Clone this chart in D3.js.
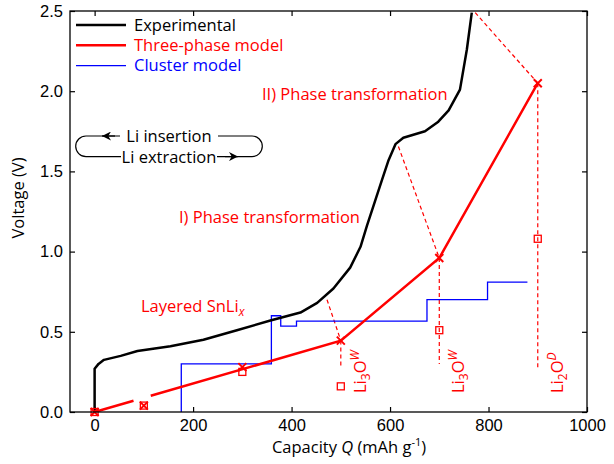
<!DOCTYPE html>
<html>
<head>
<meta charset="utf-8">
<script src="https://cdn.jsdelivr.net/npm/d3@7"></script>
<style>
  body { margin: 0; background: #fff; }
  svg { display: block; font-family: "Open Sans", "Liberation Sans", sans-serif; }
</style>
</head>
<body>
<div id="chart"></div>
<script>
// Experimental curve (capacity mAh/g, voltage V)
const expQ = [0, 0, 8, 19, 53, 87, 154, 221, 289, 357, 418, 452, 485, 519, 540, 553, 570, 584, 597, 611, 627, 671, 698, 719, 742, 756, 766];
const expV = [0, 0.27, 0.30, 0.325, 0.35, 0.38, 0.41, 0.45, 0.51, 0.57, 0.62, 0.68, 0.77, 0.90, 1.03, 1.16, 1.32, 1.45, 1.57, 1.67, 1.71, 1.75, 1.81, 1.88, 2.01, 2.26, 2.49];

// Three-phase model: line (null = break) and markers
const threeLineQ = [0, 79, null, 114, 500, 700, 900];
const threeLineV = [0, 0.07, null, 0.101, 0.445, 0.96, 2.05];
const crossQ = [0, 100, 300, 500, 700, 900];
const crossV = [0, 0.04, 0.28, 0.445, 0.96, 2.05];
const squareQ = [0, 100, 300, 500, 700, 900];
const squareV = [0, 0.04, 0.25, 0.16, 0.51, 1.08];

// Cluster model steps (step before)
const clusterQ = [176, 359, 378, 410, 675, 798, 879];
const clusterV = [0, 0.30, 0.60, 0.535, 0.567, 0.70, 0.81];

// Dashed guides: [Q1, V1, Q2, V2]
const guides = [
  [472, 0.70, 500, 0.445],
  [500, 0.445, 500, 0.28],
  [617, 1.655, 700, 0.96],
  [700, 0.96, 700, 0.30],
  [773, 2.49, 900, 2.05],
  [900, 2.05, 900, 0.26]
];

const xTicks = [0, 200, 400, 600, 800, 1000];
const yTicks = [0, 0.5, 1.0, 1.5, 2.0, 2.5];

const W = 614, H = 464;
const margin = { top: 11, right: 27, bottom: 52, left: 70 };
const w = W - margin.left - margin.right;
const h = H - margin.top - margin.bottom;
const RED = '#ff0000', BLUE = '#0000ff';
const FS = 16.5;

const x = d3.scaleLinear().domain([-50, 1000]).range([0, w]);
const y = d3.scaleLinear().domain([0, 2.5]).range([h, 0]);

const svg = d3.select('#chart')
  .append('svg')
  .attr('width', W)
  .attr('height', H);

const defs = svg.append('defs');
defs.append('clipPath').attr('id', 'clip')
  .append('rect').attr('width', w).attr('height', h);
defs.append('marker')
  .attr('id', 'arrow')
  .attr('viewBox', '0 0 10 10')
  .attr('refX', 10).attr('refY', 5)
  .attr('markerWidth', 9).attr('markerHeight', 9)
  .attr('markerUnits', 'userSpaceOnUse')
  .attr('orient', 'auto')
  .append('path').attr('d', 'M0,0 L10,5 L0,10 L3,5 Z').attr('fill', '#000');

const g = svg.append('g').attr('transform', `translate(${margin.left},${margin.top})`);

// Axes, inward ticks on all sides
const tickStyle = sel => {
  sel.select('.domain').remove();
  sel.selectAll('line').attr('stroke', '#000').attr('stroke-width', 1.2);
  sel.selectAll('text').attr('font-size', FS).attr('fill', '#000');
};
g.append('g').attr('transform', `translate(0,${h})`)
  .call(d3.axisBottom(x).tickValues(xTicks).tickSizeInner(-5).tickSizeOuter(0).tickPadding(7).tickFormat(d3.format('d')))
  .call(tickStyle);
g.append('g')
  .call(d3.axisTop(x).tickValues(xTicks).tickSizeInner(-5).tickSizeOuter(0).tickFormat(''))
  .call(tickStyle);
g.append('g')
  .call(d3.axisLeft(y).tickValues(yTicks).tickSizeInner(-5).tickSizeOuter(0).tickPadding(7).tickFormat(d3.format('.1f')))
  .call(tickStyle);
g.append('g').attr('transform', `translate(${w},0)`)
  .call(d3.axisRight(y).tickValues(yTicks).tickSizeInner(-5).tickSizeOuter(0).tickFormat(''))
  .call(tickStyle);

const plot = g.append('g').attr('clip-path', 'url(#clip)');

// Dashed guides
plot.selectAll('.guide')
  .data(guides)
  .enter()
  .append('line')
  .attr('x1', d => x(d[0])).attr('y1', d => y(d[1]))
  .attr('x2', d => x(d[2])).attr('y2', d => y(d[3]))
  .attr('stroke', RED).attr('stroke-width', 1.2)
  .attr('stroke-dasharray', '4,3');

// Cluster model
plot.append('path')
  .datum(clusterQ.map((q, i) => [q, clusterV[i]]))
  .attr('d', d3.line().x(d => x(d[0])).y(d => y(d[1])).curve(d3.curveStepBefore))
  .attr('fill', 'none').attr('stroke', BLUE).attr('stroke-width', 1.3);

// Experimental
plot.append('path')
  .datum(expQ.map((q, i) => [q, expV[i]]))
  .attr('d', d3.line().x(d => x(d[0])).y(d => y(d[1])))
  .attr('fill', 'none').attr('stroke', '#000').attr('stroke-width', 2.5)
  .attr('stroke-linejoin', 'round');

// Three-phase model
plot.append('path')
  .datum(threeLineQ.map((q, i) => [q, threeLineV[i]]))
  .attr('d', d3.line().defined(d => d[0] !== null).x(d => x(d[0])).y(d => y(d[1])))
  .attr('fill', 'none').attr('stroke', RED).attr('stroke-width', 2.5);

g.selectAll('.sq')
  .data(squareQ.map((q, i) => [q, squareV[i]]))
  .enter()
  .append('rect')
  .attr('x', d => x(d[0]) - 3.5).attr('y', d => y(d[1]) - 3.5)
  .attr('width', 7).attr('height', 7)
  .attr('fill', 'none').attr('stroke', RED).attr('stroke-width', 1.3);

g.selectAll('.cross')
  .data(crossQ.map((q, i) => [q, crossV[i]]))
  .enter()
  .append('path')
  .attr('d', d => {
    const cx = x(d[0]), cy = y(d[1]), s = 4;
    return `M${cx - s},${cy - s}L${cx + s},${cy + s}M${cx - s},${cy + s}L${cx + s},${cy - s}`;
  })
  .attr('stroke', RED).attr('stroke-width', 2);

// Frame
g.append('rect').attr('width', w).attr('height', h)
  .attr('fill', 'none').attr('stroke', '#000').attr('stroke-width', 1.3);

// Axis titles
const xt = svg.append('text')
  .attr('x', 349).attr('y', 453)
  .attr('text-anchor', 'middle').attr('font-size', FS);
xt.append('tspan').text('Capacity ');
xt.append('tspan').attr('font-style', 'italic').text('Q');
xt.append('tspan').text(' (mAh g');
xt.append('tspan').attr('font-size', 11).attr('dy', -7).text('-1');
xt.append('tspan').attr('dy', 7).text(')');

svg.append('text')
  .attr('transform', 'translate(24,198) rotate(-90)')
  .attr('text-anchor', 'middle').attr('font-size', FS)
  .text('Voltage (V)');

// Legend
const legend = [
  { label: 'Experimental', color: '#000', width: 2.5 },
  { label: 'Three-phase model', color: RED, width: 2.5 },
  { label: 'Cluster model', color: BLUE, width: 1.3 }
];
const lg = svg.append('g');
legend.forEach((d, i) => {
  const ly = 25 + i * 20.3;
  lg.append('line').attr('x1', 76).attr('x2', 126).attr('y1', ly).attr('y2', ly)
    .attr('stroke', d.color).attr('stroke-width', d.width);
  lg.append('text').attr('x', 134).attr('y', ly + 5.5)
    .attr('font-size', FS).attr('fill', d.color)
    .text(d.label);
});

// Li insertion / extraction loop
const loop = svg.append('g').attr('fill', 'none').attr('stroke', '#000').attr('stroke-width', 1.2);
loop.append('path').attr('d', 'M120,136 L86,136 A10.3,10.3 0 0 0 86,156.6 L121,156.6');
loop.append('path').attr('d', 'M218,136 L252,136 A10.3,10.3 0 0 1 252,156.6 L217,156.6');
loop.append('line').attr('x1', 115).attr('y1', 136).attr('x2', 102).attr('y2', 136).attr('marker-end', 'url(#arrow)');
loop.append('line').attr('x1', 225).attr('y1', 156.6).attr('x2', 238).attr('y2', 156.6).attr('marker-end', 'url(#arrow)');
svg.append('text').attr('x', 169).attr('y', 141.5).attr('text-anchor', 'middle').attr('font-size', FS).text('Li insertion');
svg.append('text').attr('x', 169).attr('y', 162.5).attr('text-anchor', 'middle').attr('font-size', FS).text('Li extraction');

// Red annotations
const ann = svg.append('g').attr('fill', RED).attr('font-size', FS);
ann.append('text').attr('x', 262).attr('y', 100).text('II) Phase transformation');
ann.append('text').attr('x', 179).attr('y', 222.5).text('I) Phase transformation');
const sn = ann.append('text').attr('x', 141).attr('y', 312);
sn.append('tspan').text('Layered SnLi');
sn.append('tspan').attr('font-style', 'italic').attr('font-size', 12).attr('dy', 4).text('x');

const phaseLabels = [
  { q: 500, sup: 'W', sub: '3' },
  { q: 700, sup: 'W', sub: '3' },
  { q: 900, sup: 'D', sub: '2' }
];
phaseLabels.forEach(d => {
  const t = ann.append('text')
    .attr('transform', `translate(${margin.left + x(d.q) + 25},393) rotate(-90)`);
  t.append('tspan').text('Li');
  t.append('tspan').attr('font-size', 12).attr('dy', 4).text(d.sub);
  t.append('tspan').attr('dy', -4).text('O');
  t.append('tspan').attr('font-size', 12).attr('font-style', 'italic').attr('dy', -7).text(d.sup);
});
</script>
</body>
</html>
